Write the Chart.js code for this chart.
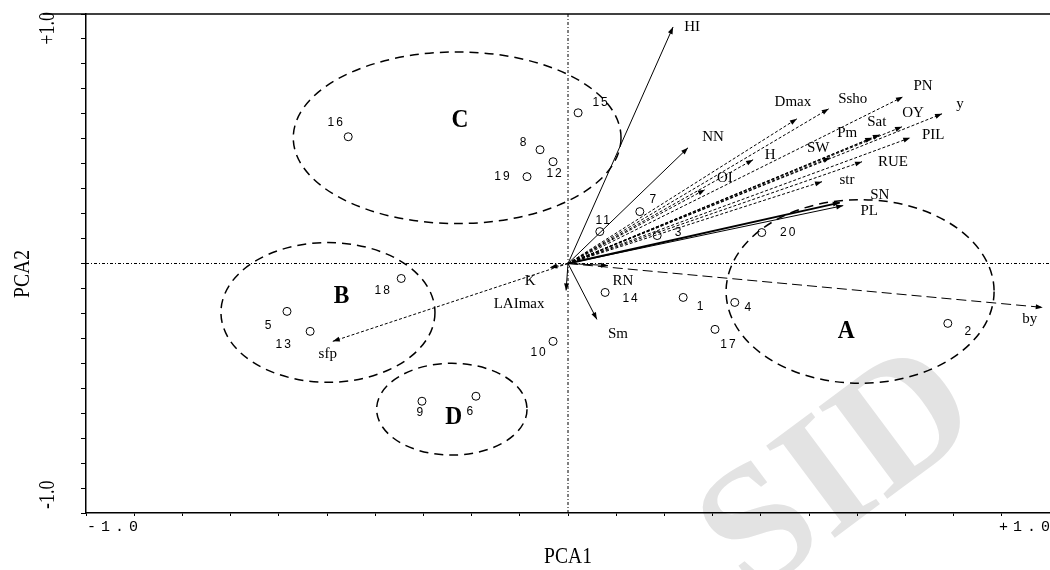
<!DOCTYPE html>
<html>
<head>
<meta charset="utf-8">
<script src="https://cdn.jsdelivr.net/npm/chart.js@4.4.0/dist/chart.umd.min.js"></script>
<style>
html, body { margin: 0; padding: 0; background: #fff; }
</style>
</head>
<body>
<canvas id="pca-biplot" width="1050" height="570"></canvas>
<script>
"use strict";

// trait loadings (arrows)
const varNames = ["HI", "NN", "Dmax", "Ssho", "PN", "y", "OY", "Sat", "Pm", "PIL", "SW", "H", "RUE", "str", "OI", "SN", "PL", "by", "RN", "Sm", "LAImax", "K", "sfp"];
const varPC1 = [0.218, 0.249, 0.475, 0.541, 0.695, 0.776, 0.693, 0.647, 0.631, 0.710, 0.544, 0.384, 0.610, 0.527, 0.284, 0.564, 0.571, 0.985, 0.083, 0.060, -0.004, -0.037, -0.488];
const varPC2 = [0.948, 0.464, 0.580, 0.620, 0.668, 0.600, 0.548, 0.516, 0.504, 0.504, 0.424, 0.416, 0.408, 0.328, 0.296, 0.244, 0.232, -0.176, -0.008, -0.224, -0.108, -0.016, -0.312];

// genotype scores (circles)
const genoNames = ["1", "2", "3", "4", "5", "6", "7", "8", "9", "10", "11", "12", "13", "14", "15", "16", "17", "18", "19", "20"];
const genoPC1 = [0.239, 0.788, 0.185, 0.346, -0.583, -0.191, 0.149, -0.058, -0.303, -0.031, 0.066, -0.031, -0.535, 0.077, 0.021, -0.456, 0.305, -0.346, -0.085, 0.402];
const genoPC2 = [-0.136, -0.240, 0.112, -0.156, -0.192, -0.532, 0.208, 0.456, -0.552, -0.312, 0.128, 0.408, -0.272, -0.116, 0.604, 0.508, -0.264, -0.060, 0.348, 0.124];

// cluster ellipses
const groupNames = ["A", "B", "C", "D"];
const groupCx = [0.606, -0.498, -0.230, -0.241];
const groupCy = [-0.112, -0.196, 0.504, -0.584];
const groupRx = [0.278, 0.222, 0.340, 0.156];
const groupRy = [0.368, 0.280, 0.344, 0.184];

const axisEnds = [-1, 1];

// label offsets in pixels from the arrow tip / circle
const varLabelOffset = {
	HI: [19, 0], NN: [25, -11], Dmax: [-4, -17], Ssho: [24, -10], PN: [20, -11], y: [18, -10],
	OY: [11, -14], Sat: [-3, -13], Pm: [-25, -5], PIL: [23, -3], SW: [-12, -10], H: [17, -5],
	RUE: [31, 0], str: [25, -2], OI: [20, -12], SN: [40, -8], PL: [26, 5], by: [-13, 12],
	RN: [15, 16], Sm: [21, 15], LAImax: [-47, 14], K: [-20, 14], sfp: [-5, 13]
};
const genoLabelOffset = {
	"1": [17, 9], "2": [20, 8], "3": [21, -3], "4": [13, 5], "5": [-19, 14], "6": [-6, 15],
	"7": [13, -12], "8": [-17, -7], "9": [-2, 11], "10": [-15, 11], "11": [3, -11], "12": [1, 12],
	"13": [-27, 13], "14": [25, 6], "15": [22, -10], "16": [-13, -14], "17": [13, 15], "18": [-19, 12],
	"19": [-25, 0], "20": [26, 0]
};
const groupLabelPos = { A: [0.577, -0.27], B: [-0.47, -0.13], C: [-0.224, 0.576], D: [-0.237, -0.616] };

const solidVars = ["HI", "NN", "SN", "PL", "RN", "Sm", "LAImax"];

function vectorDatasets() {
	const sets = [];
	for (let i = 0; i < varNames.length; i++) {
		const name = varNames[i];
		let dash = [3, 2];
		if (solidVars.includes(name)) dash = [];
		if (name === "by") dash = [10, 5];
		sets.push({
			type: 'line',
			label: name,
			data: [{x: 0, y: 0}, {x: varPC1[i], y: varPC2[i]}],
			borderColor: '#000',
			borderWidth: name === "SN" ? 2 : 1,
			borderDash: dash,
			pointRadius: 0,
			showLine: true
		});
	}
	return sets;
}

// tall, narrow text like the scanned figure
function squeezedText(ctx, text, x, y, sx) {
	ctx.save();
	ctx.translate(x, y);
	ctx.scale(sx, 1);
	ctx.fillText(text, 0, 0);
	ctx.restore();
}

const biplotDecor = {
	id: 'biplotDecor',
	beforeDraw(chart) {
		const ctx = chart.ctx;
		// watermark
		ctx.save();
		ctx.translate(842, 476);
		ctx.rotate(-0.64);
		ctx.font = 'bold 175px "Liberation Serif"';
		ctx.fillStyle = '#e3e3e3';
		ctx.textAlign = 'center';
		ctx.textBaseline = 'middle';
		ctx.fillText('SID', 0, 0);
		ctx.restore();
	},
	afterDatasetsDraw(chart) {
		const ctx = chart.ctx;
		const xs = chart.scales.x;
		const ys = chart.scales.y;
		const ox = xs.getPixelForValue(0);
		const oy = ys.getPixelForValue(0);

		// arrowheads and labels
		ctx.save();
		ctx.fillStyle = '#000';
		ctx.font = '15px "Liberation Serif"';
		ctx.textAlign = 'center';
		ctx.textBaseline = 'middle';
		for (let i = 0; i < varNames.length; i++) {
			const tx = xs.getPixelForValue(varPC1[i]);
			const ty = ys.getPixelForValue(varPC2[i]);
			const a = Math.atan2(ty - oy, tx - ox);
			ctx.beginPath();
			ctx.moveTo(tx, ty);
			ctx.lineTo(tx - 7 * Math.cos(a) + 2.5 * Math.sin(a), ty - 7 * Math.sin(a) - 2.5 * Math.cos(a));
			ctx.lineTo(tx - 7 * Math.cos(a) - 2.5 * Math.sin(a), ty - 7 * Math.sin(a) + 2.5 * Math.cos(a));
			ctx.closePath();
			ctx.fill();
			const off = varLabelOffset[varNames[i]];
			ctx.fillText(varNames[i], tx + off[0], ty + off[1]);
		}

		// genotype numbers
		ctx.font = '12px "Liberation Sans"';
		ctx.letterSpacing = '2px';
		for (let i = 0; i < genoNames.length; i++) {
			const px = xs.getPixelForValue(genoPC1[i]);
			const py = ys.getPixelForValue(genoPC2[i]);
			const off = genoLabelOffset[genoNames[i]];
			ctx.fillText(genoNames[i], px + off[0] + 1, py + off[1]);
		}
		ctx.letterSpacing = '0px';

		// cluster ellipses
		ctx.lineWidth = 1.5;
		ctx.setLineDash([9, 6]);
		ctx.strokeStyle = '#000';
		for (let i = 0; i < groupNames.length; i++) {
			const cx = xs.getPixelForValue(groupCx[i]);
			const cy = ys.getPixelForValue(groupCy[i]);
			const rx = Math.abs(xs.getPixelForValue(groupCx[i] + groupRx[i]) - cx);
			const ry = Math.abs(ys.getPixelForValue(groupCy[i] + groupRy[i]) - cy);
			ctx.beginPath();
			ctx.ellipse(cx, cy, rx, ry, 0, 0, Math.PI * 2);
			ctx.stroke();
		}
		ctx.setLineDash([]);

		ctx.font = 'bold 26px "Liberation Serif"';
		for (const g of groupNames) {
			const p = groupLabelPos[g];
			squeezedText(ctx, g, xs.getPixelForValue(p[0]), ys.getPixelForValue(p[1]), 0.9);
		}
		ctx.restore();
	},
	afterDraw(chart) {
		const ctx = chart.ctx;
		const xs = chart.scales.x;
		const ys = chart.scales.y;
		const area = chart.chartArea;
		ctx.save();
		// top frame line
		ctx.strokeStyle = '#000';
		ctx.lineWidth = 1.5;
		ctx.beginPath();
		ctx.moveTo(43, area.top);
		ctx.lineTo(area.right, area.top);
		ctx.stroke();

		ctx.fillStyle = '#000';
		const lo = axisEnds[0].toFixed(1);
		const hi = '+' + axisEnds[1].toFixed(1);

		// x end labels
		ctx.font = '15px "Liberation Mono"';
		ctx.letterSpacing = '5px';
		ctx.textBaseline = 'middle';
		ctx.textAlign = 'left';
		ctx.fillText(lo, xs.getPixelForValue(axisEnds[0]) + 1, area.bottom + 14);
		ctx.textAlign = 'right';
		ctx.fillText(hi, xs.getPixelForValue(axisEnds[1]) + 5, area.bottom + 14);
		ctx.letterSpacing = '0px';

		// y end labels, rotated
		ctx.font = '24px "Liberation Serif"';
		ctx.save();
		ctx.translate(48, ys.getPixelForValue(axisEnds[1]) - 2);
		ctx.rotate(-Math.PI / 2);
		ctx.scale(0.75, 1);
		ctx.textAlign = 'right';
		ctx.fillText(hi, 0, 0);
		ctx.restore();
		ctx.save();
		ctx.translate(48, ys.getPixelForValue(axisEnds[0]) - 4);
		ctx.rotate(-Math.PI / 2);
		ctx.scale(0.75, 1);
		ctx.textAlign = 'left';
		ctx.fillText(lo, 0, 0);
		ctx.restore();

		// axis titles
		ctx.font = '23px "Liberation Serif"';
		ctx.textAlign = 'center';
		squeezedText(ctx, 'PCA1', xs.getPixelForValue(0), 557, 0.85);
		ctx.save();
		ctx.translate(23, 274);
		ctx.rotate(-Math.PI / 2);
		ctx.scale(0.85, 1);
		ctx.fillText('PCA2', 0, 0);
		ctx.restore();
		ctx.restore();
	}
};

const ctx = document.querySelector("#pca-biplot").getContext('2d');
new Chart(ctx, {
	type: 'scatter',
	data: {
		datasets: [
			{
				type: 'line',
				label: 'zero x',
				data: [{x: axisEnds[0], y: 0}, {x: axisEnds[1], y: 0}],
				borderColor: '#000',
				borderWidth: 1,
				borderDash: [3, 2, 1, 2],
				pointRadius: 0
			},
			{
				type: 'line',
				label: 'zero y',
				data: [{x: 0, y: axisEnds[0]}, {x: 0, y: axisEnds[1]}],
				borderColor: '#000',
				borderWidth: 1,
				borderDash: [3, 2, 1, 2],
				pointRadius: 0
			},
			...vectorDatasets(),
			{
				label: 'genotypes',
				data: genoPC1.map((v, i) => ({x: v, y: genoPC2[i]})),
				pointStyle: 'circle',
				pointRadius: 4,
				pointBorderWidth: 1,
				pointBorderColor: '#000',
				pointBackgroundColor: '#fff'
			}
		]
	},
	plugins: [biplotDecor],
	options: {
		responsive: false,
		animation: false,
		layout: { autoPadding: false, padding: { top: 14, right: 0, left: 0, bottom: 0 } },
		plugins: {
			legend: { display: false },
			tooltip: { enabled: false }
		},
		scales: {
			x: {
				type: 'linear',
				min: -1,
				max: 1,
				ticks: { display: false, stepSize: 0.1 },
				grid: { drawOnChartArea: false, drawTicks: true, tickLength: 3, color: '#000' },
				border: { color: '#000', width: 1.5 },
				afterFit(s) { s.height = 57; }
			},
			y: {
				type: 'linear',
				min: -1,
				max: 1,
				ticks: { display: false, stepSize: 0.1 },
				grid: { drawOnChartArea: false, drawTicks: true, tickLength: 5, color: '#000' },
				border: { color: '#000', width: 1.5 },
				afterFit(s) { s.width = 86; }
			}
		}
	}
});
</script>
</body>
</html>
